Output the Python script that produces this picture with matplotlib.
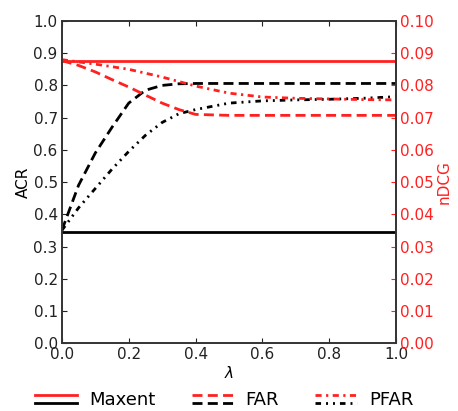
import matplotlib
matplotlib.use('Agg')
import matplotlib.pyplot as plt
import numpy as np
from matplotlib.lines import Line2D
from matplotlib.legend_handler import HandlerBase

# lambda grid
lam = [0.0, 0.05, 0.1, 0.15, 0.2, 0.25, 0.3, 0.35, 0.4, 0.5, 0.6, 0.7, 0.8, 0.9, 1.0]

# ACR (left axis, black)
acr_maxent = 0.345
acr_far = [0.35, 0.49, 0.59, 0.67, 0.745, 0.785, 0.80, 0.805, 0.806, 0.806, 0.806, 0.806, 0.806, 0.806, 0.806]
acr_pfar = [0.35, 0.42, 0.48, 0.54, 0.595, 0.645, 0.685, 0.712, 0.725, 0.745, 0.752, 0.755, 0.757, 0.760, 0.765]

# nDCG (right axis, red)
ndcg_maxent = 0.0877
ndcg_far = [0.0877, 0.0862, 0.0842, 0.0818, 0.0795, 0.0770, 0.0745, 0.0725, 0.0710, 0.0707, 0.0707, 0.0707, 0.0707, 0.0707, 0.0707]
ndcg_pfar = [0.0880, 0.0873, 0.0866, 0.0858, 0.0850, 0.0838, 0.0826, 0.0812, 0.0798, 0.0776, 0.0764, 0.0760, 0.0758, 0.0756, 0.0755]

RED = '#ff2020'
far_dash = (3.6, 1.9)
pfar_dash_k = (2.0, 1.8, 0.7, 1.8, 0.7, 1.8)
pfar_dash_r = (2.2, 1.6, 0.8, 1.6)


class HandlerPair(HandlerBase):
    # red line on top, black line below
    def create_artists(self, legend, orig_handle, xdescent, ydescent,
                       width, height, fontsize, trans):
        top, bot = orig_handle
        out = []
        mid = height / 2.0 - ydescent
        for h, off in ((top, 2.6), (bot, -2.6)):
            ln = Line2D([-xdescent, -xdescent + width], [mid + off, mid + off],
                        color=h.get_color(), linewidth=h.get_linewidth())
            if h.get_linestyle() != '-':
                ln.set_dashes(h._unscaled_dash_pattern[1])
            ln.set_transform(trans)
            out.append(ln)
        return out


fig = plt.figure(figsize=(4.58, 4.11), dpi=100)
ax = fig.add_axes([0.135, 0.165, 0.73, 0.784])
ax2 = ax.twinx()

k1, = ax.plot([0, 1], [acr_maxent, acr_maxent], color='black', linewidth=2)
k2, = ax.plot(lam, acr_far, color='black', linewidth=2, dashes=far_dash)
k3, = ax.plot(lam, acr_pfar, color='black', linewidth=2, dashes=pfar_dash_k)

r1, = ax2.plot([0, 1], [ndcg_maxent, ndcg_maxent], color=RED, linewidth=2)
r2, = ax2.plot(lam, ndcg_far, color=RED, linewidth=2, dashes=far_dash)
r3, = ax2.plot(lam, ndcg_pfar, color=RED, linewidth=2, dashes=pfar_dash_r)

ax.set_xlim(0, 1)
ax.set_ylim(0, 1)
ax2.set_ylim(0, 0.1)
ax.set_xticks(np.arange(0, 1.01, 0.2))
ax.set_yticks(np.arange(0, 1.01, 0.1))
ax2.set_yticks(np.arange(0, 0.101, 0.01))
ax.xaxis.set_major_formatter(plt.FormatStrFormatter('%.1f'))
ax.yaxis.set_major_formatter(plt.FormatStrFormatter('%.1f'))
ax2.yaxis.set_major_formatter(plt.FormatStrFormatter('%.2f'))

ax.tick_params(direction='in', top=True, right=False, labelsize=11, colors='#222222', pad=3)
ax2.tick_params(direction='in', labelsize=11, colors=RED, pad=3)
for a in (ax, ax2):
    for s in a.spines.values():
        s.set_color('#333333')
        s.set_linewidth(1.2)

ax.set_xlabel(r'$\lambda$', fontsize=11, labelpad=2)
ax.set_ylabel('ACR', fontsize=11, labelpad=2)
ax2.set_ylabel('nDCG', fontsize=11, color=RED, labelpad=2)

fig.legend([(r1, k1), (r2, k2), (r3, k3)], ['Maxent', 'FAR', 'PFAR'],
           handler_map={tuple: HandlerPair()}, loc='center',
           bbox_to_anchor=(0.49, 0.026), ncol=3, frameon=False, fontsize=13,
           handlelength=2.3, handletextpad=0.7, columnspacing=2.0,
           borderpad=0.0)

fig.savefig('out.png', dpi=100)
